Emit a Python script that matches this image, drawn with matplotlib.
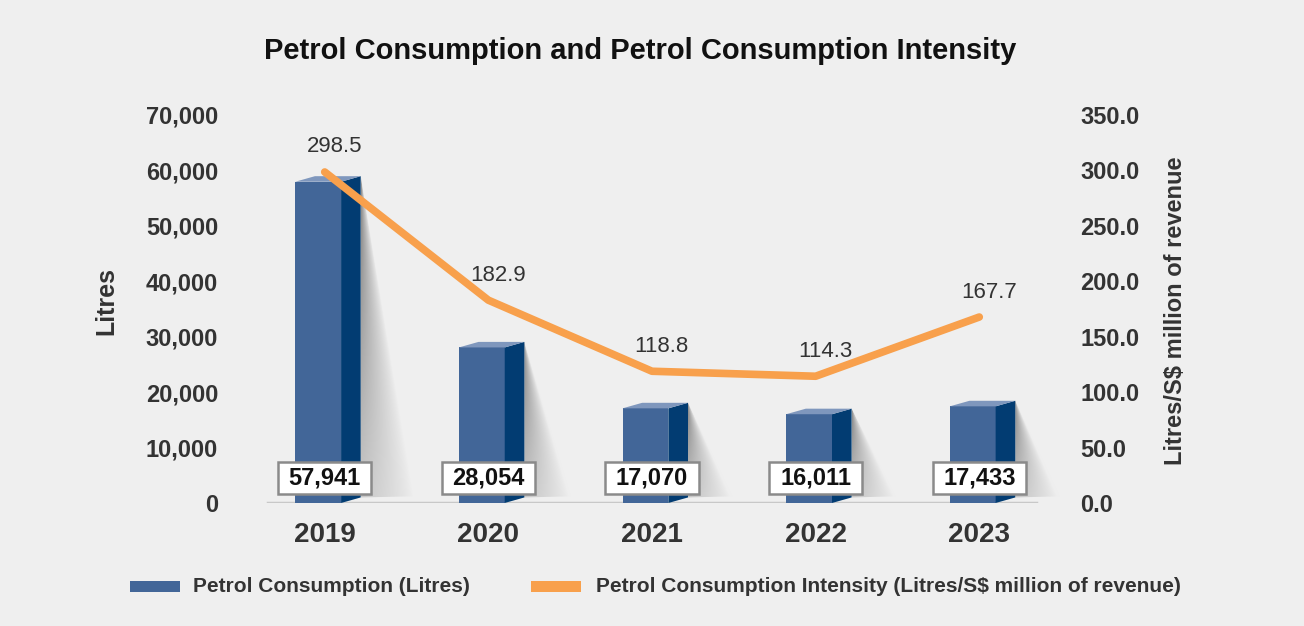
import numpy as np
import matplotlib
matplotlib.use('Agg')
import matplotlib.pyplot as plt
from matplotlib.patches import Polygon, Rectangle
from matplotlib.ticker import FuncFormatter

plt.rcParams['font.family'] = ['Liberation Sans', 'DejaVu Sans']

years = ['2019', '2020', '2021', '2022', '2023']
litres = [57941, 28054, 17070, 16011, 17433]
intensity = [298.5, 182.9, 118.8, 114.3, 167.7]

bg = '#efefef'
txt = '#333333'
front_c = '#426698'
side_c = '#023c72'
top_c = '#7f97bd'
orange = '#f8a04c'

fig = plt.figure(figsize=(13.04, 6.26), dpi=100, facecolor=bg)
ax = fig.add_axes([0.180, 0.1965, 0.640, 0.62])
ax.set_facecolor(bg)
ax2 = ax.twinx()

x = np.arange(len(years))
fw = 0.28   # front face width
sw = 0.12   # side depth
d = 1000    # vertical depth offset (litres units)

# shadow gradient behind each bar
for i, v in enumerate(litres):
    x0 = i - 0.18 + fw + sw
    off = 0.25 + 0.0000012 * v
    nx, ny = 150, 250
    u = np.linspace(0, 1, nx)[None, :]
    w = np.linspace(1, 0, ny)[:, None]   # top row = 1
    t = np.clip(u / np.maximum(1 - w, 1e-6), 0, 1)
    dark = (1 - t) ** 0.8 * (0.35 + 0.65 * w)
    g = 0.935 - 0.42 * dark
    img = np.dstack([g, g, g])
    im = ax.imshow(img, extent=[x0, x0 + off, 0, v + d], aspect='auto',
                   origin='upper', zorder=1, interpolation='bilinear')
    poly = Polygon([(x0, v + d), (x0, d), (x0 + off, 1200)], closed=True,
                   transform=ax.transData, facecolor='none', edgecolor='none')
    ax.add_patch(poly)
    im.set_clip_path(poly)

# bars: front face through bar(), side and top as polygons
ax.bar(x - 0.18, litres, width=fw, align='edge', color=front_c, zorder=3)
for i, v in enumerate(litres):
    xr = i - 0.18 + fw
    ax.add_patch(Polygon([(xr, 0), (xr + sw, d), (xr + sw, v + d), (xr, v)],
                         closed=True, facecolor=side_c, edgecolor='none', zorder=3))
    ax.add_patch(Polygon([(i - 0.18, v), (xr, v), (xr + sw, v + d), (i - 0.18 + sw, v + d)],
                         closed=True, facecolor=top_c, edgecolor='none', zorder=3))

# value boxes
bw, bh, by = 0.57, 5900, 4500
for i, v in enumerate(litres):
    ax.add_patch(Rectangle((i - bw / 2, by - bh / 2), bw, bh, facecolor='white',
                           edgecolor='#8a8a8a', linewidth=1.8, zorder=5))
    ax.text(i, by, f'{v:,}', ha='center', va='center', fontsize=17,
            fontweight='bold', color='#111111', zorder=6)

ax.axhline(0, xmin=0.04, xmax=0.96, color='#c8c8c8', linewidth=2.5, zorder=2)

ax.set_xlim(-0.55, 4.55)
ax.set_ylim(0, 70000)
ax.set_yticks(np.arange(0, 70001, 10000))
ax.yaxis.set_major_formatter(FuncFormatter(lambda val, p: f'{int(val):,}'))
ax.set_xticks(x)
ax.set_xticklabels(years)
ax.tick_params(axis='y', length=0, pad=12, labelsize=17, labelcolor=txt)
ax.tick_params(axis='x', length=0, pad=14, labelsize=20, labelcolor=txt)
for lab in ax.get_yticklabels() + ax.get_xticklabels():
    lab.set_fontweight('bold')

# intensity line on right axis
ax2.plot(x, intensity, color=orange, linewidth=5.5, solid_capstyle='round', zorder=5)
for i, v in enumerate(intensity):
    ax2.annotate(f'{v:.1f}', (i, v), xytext=(7, 18), textcoords='offset points',
                 ha='center', va='center', fontsize=16, color=txt)
ax2.set_ylim(0, 350)
ax2.set_yticks(np.arange(0, 351, 50))
ax2.yaxis.set_major_formatter(FuncFormatter(lambda val, p: f'{val:.1f}'))
ax2.tick_params(axis='y', length=0, pad=8, labelsize=17, labelcolor=txt)
for lab in ax2.get_yticklabels():
    lab.set_fontweight('bold')

ax.set_zorder(1)
ax2.set_zorder(2)
for a in (ax, ax2):
    for s in a.spines.values():
        s.set_visible(False)

ax.set_ylabel('Litres', fontsize=18, fontweight='bold', color=txt)
ax.yaxis.set_label_coords(-0.14, 0.52)
ax2.set_ylabel('Litres/S$ million of revenue', fontsize=17, fontweight='bold', color=txt)
ax2.yaxis.set_label_coords(1.114, 0.495)

fig.text(0.491, 0.918, 'Petrol Consumption and Petrol Consumption Intensity',
         ha='center', va='center', fontsize=21, fontweight='bold', color='#111111')

# legend
fig.add_artist(Rectangle((130 / 1304, 1 - 592 / 626), 50 / 1304, 11 / 626,
                         transform=fig.transFigure, facecolor=front_c, edgecolor='none'))
fig.text(193 / 1304, 1 - 586 / 626, 'Petrol Consumption (Litres)', ha='left', va='center',
         fontsize=15, fontweight='bold', color=txt)
fig.add_artist(Rectangle((531 / 1304, 1 - 592 / 626), 50 / 1304, 11 / 626,
                         transform=fig.transFigure, facecolor=orange, edgecolor='none'))
fig.text(596 / 1304, 1 - 586 / 626, 'Petrol Consumption Intensity (Litres/S$ million of revenue)',
         ha='left', va='center', fontsize=15, fontweight='bold', color=txt)

fig.savefig('out.png', dpi=100, facecolor=bg)
